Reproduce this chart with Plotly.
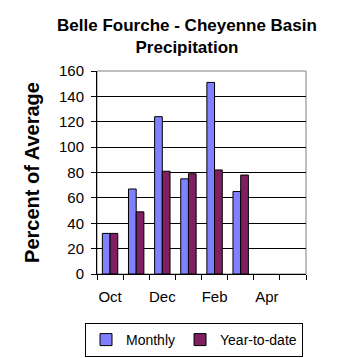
import plotly.graph_objects as go

months = ["Oct", "Nov", "Dec", "Jan", "Feb", "Mar", "Apr", "May"]
tick_labels = ["Oct", "", "Dec", "", "Feb", "", "Apr", ""]
monthly = [32, 67, 124, 75, 151, 65, None, None]
year_to_date = [32, 49, 81, 79, 82, 78, None, None]
y_ticks = [0, 20, 40, 60, 80, 100, 120, 140, 160]

FONT = "Liberation Sans, Arial, sans-serif"
OFF = 8  # page body margin
W = H = 358 - OFF
LEFT, RIGHT = 97, 306          # plot area in window pixels
ML = LEFT - OFF
MR = 4
PW = W - ML - MR               # full plot-area width (wider than the axis)
X_DOMAIN_END = (RIGHT - LEFT) / PW

fig = go.Figure()
fig.add_trace(go.Bar(
    x=months, y=monthly, name="Monthly",
    marker=dict(color="#8080FF", line=dict(color="black", width=1)),
))
fig.add_trace(go.Bar(
    x=months, y=year_to_date, name="Year-to-date",
    marker=dict(color="#802060", line=dict(color="black", width=1)),
))

fig.update_layout(
    width=W, height=H,
    margin=dict(l=ML, r=MR, t=71 - OFF, b=84, autoexpand=False),
    paper_bgcolor="white", plot_bgcolor="rgba(0,0,0,0)",
    barmode="group", bargap=0.41, bargroupgap=0,
    font=dict(family=FONT, size=14, color="black"),
    title=dict(
        text="<b>Belle Fourche - Cheyenne Basin<br>Precipitation</b>",
        x=(187 - OFF) / W, xanchor="center", xref="container",
        y=1 - (31 - OFF) / H, yanchor="middle", yref="container",
        font=dict(family=FONT, size=17, color="black"),
    ),
    xaxis=dict(
        domain=[0, X_DOMAIN_END],
        type="category", categoryorder="array", categoryarray=months,
        range=[-0.5, 7.5], automargin=False,
        tickmode="array", tickvals=months, ticktext=tick_labels,
        tickson="boundaries", ticks="outside", ticklen=5, tickcolor="black",
        tickangle=0, ticklabelstandoff=9,
        showline=True, linecolor="black", linewidth=1,
        showgrid=False, zeroline=False,
        tickfont=dict(family=FONT, size=15),
        fixedrange=True,
    ),
    yaxis=dict(
        range=[0, 160], tickmode="array", tickvals=y_ticks, automargin=False,
        ticks="outside", ticklen=5, tickcolor="black", ticklabelstandoff=4,
        showline=True, linecolor="black", linewidth=1,
        showgrid=True, gridcolor="black", gridwidth=1,
        zeroline=False,
        tickfont=dict(family=FONT, size=15),
        title=dict(text="<b>Percent of Average</b>", standoff=13,
                   font=dict(family=FONT, size=20)),
        fixedrange=True,
    ),
    legend=dict(
        orientation="h", x=(194 - OFF) / W, xanchor="center", xref="container",
        y=1 - (323 - OFF) / H, yanchor="top", yref="container",
        bordercolor="black", borderwidth=1, bgcolor="white",
        font=dict(family=FONT, size=14),
        itemwidth=30, traceorder="normal",
    ),
    shapes=[
        dict(type="rect", xref="x domain", yref="y domain",
             x0=0, x1=1, y0=0, y1=1,
             fillcolor="white", line=dict(width=0), layer="below"),
        dict(type="rect", xref="x domain", yref="y domain",
             x0=0, x1=1, y0=0, y1=1,
             line=dict(color="#808080", width=1), layer="below"),
    ],
    showlegend=True,
)

fig.write_html("out.html")
